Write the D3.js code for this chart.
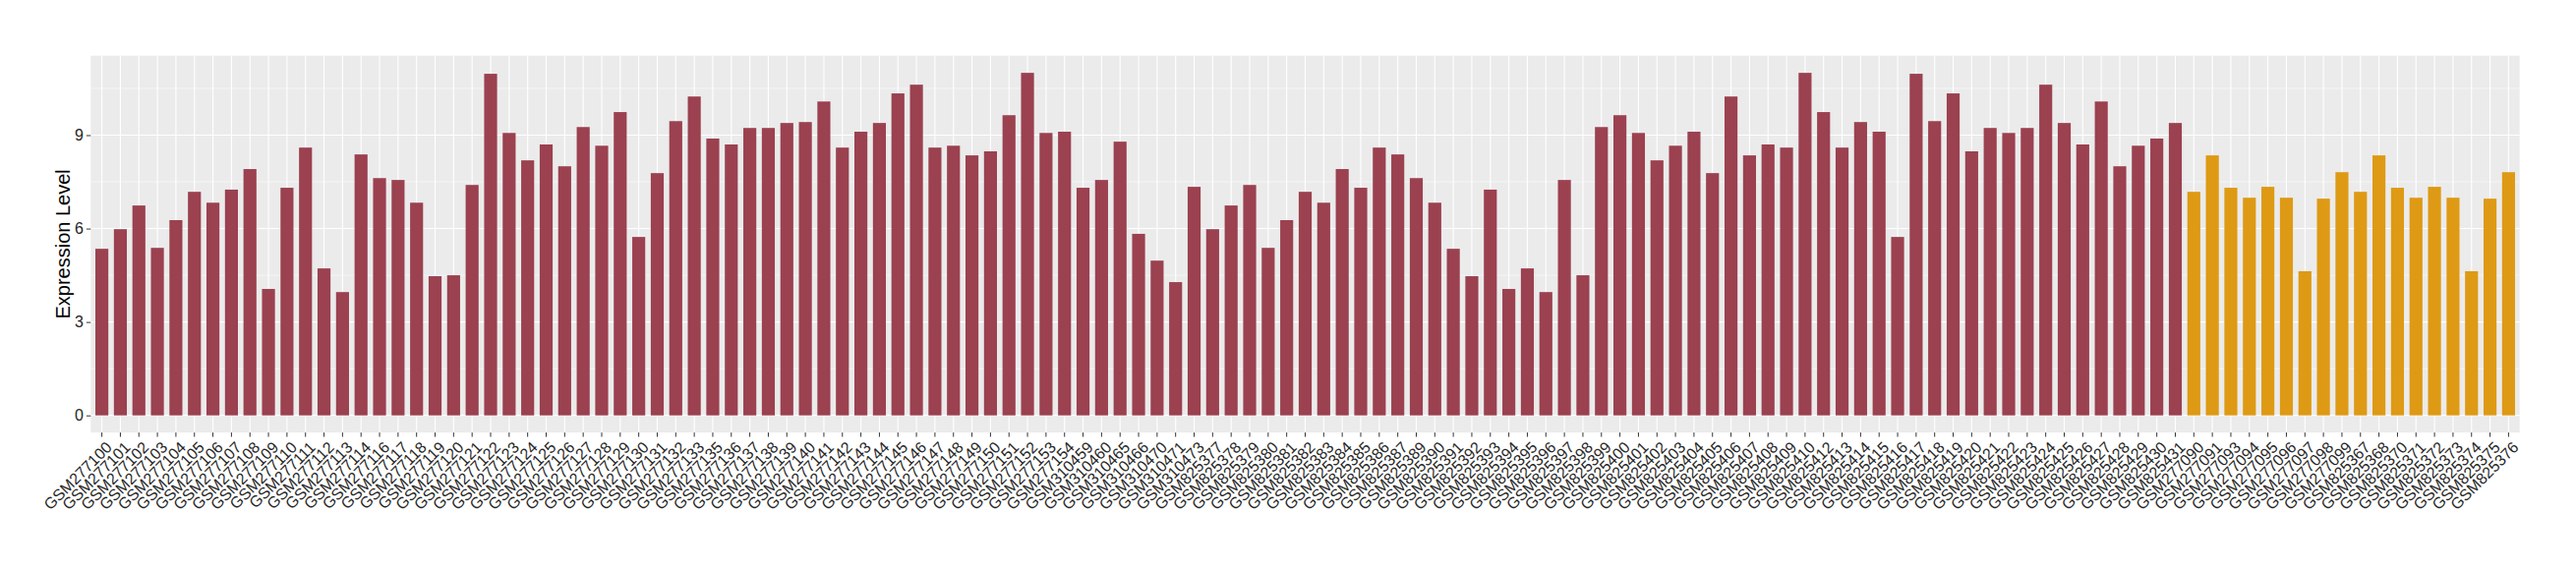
<!DOCTYPE html>
<html lang="en">
<head>
<meta charset="utf-8">
<title>Expression Level</title>
<script src="https://cdn.jsdelivr.net/npm/d3@7"></script>
<style>
  body { margin: 0; background: #fff; }
  svg text { font-family: "Liberation Sans", Arial, Helvetica, sans-serif; }
  .tick-label { fill: #262626; font-size: 16px; }
  .axis-title { fill: #000; font-size: 20px; }
</style>
</head>
<body>
<div id="chart"></div>
<script>
  // sample ids, in plotting order
  var samples = [
    "GSM277100","GSM277101","GSM277102","GSM277103","GSM277104","GSM277105","GSM277106","GSM277107",
    "GSM277108","GSM277109","GSM277110","GSM277111","GSM277112","GSM277113","GSM277114","GSM277116",
    "GSM277117","GSM277118","GSM277119","GSM277120","GSM277121","GSM277122","GSM277123","GSM277124",
    "GSM277125","GSM277126","GSM277127","GSM277128","GSM277129","GSM277130","GSM277131","GSM277132",
    "GSM277133","GSM277135","GSM277136","GSM277137","GSM277138","GSM277139","GSM277140","GSM277141",
    "GSM277142","GSM277143","GSM277144","GSM277145","GSM277146","GSM277147","GSM277148","GSM277149",
    "GSM277150","GSM277151","GSM277152","GSM277153","GSM277154",
    "GSM310459","GSM310460","GSM310465","GSM310466","GSM310470","GSM310471","GSM310473",
    "GSM825377","GSM825378","GSM825379","GSM825380","GSM825381","GSM825382","GSM825383","GSM825384",
    "GSM825385","GSM825386","GSM825387","GSM825389","GSM825390","GSM825391","GSM825392","GSM825393",
    "GSM825394","GSM825395","GSM825396","GSM825397","GSM825398","GSM825399","GSM825400","GSM825401",
    "GSM825402","GSM825403","GSM825404","GSM825405","GSM825406","GSM825407","GSM825408","GSM825409",
    "GSM825410","GSM825412","GSM825413","GSM825414","GSM825415","GSM825416","GSM825417","GSM825418",
    "GSM825419","GSM825420","GSM825421","GSM825422","GSM825423","GSM825424","GSM825425","GSM825426",
    "GSM825427","GSM825428","GSM825429","GSM825430","GSM825431",
    "GSM277090","GSM277091","GSM277093","GSM277094","GSM277095","GSM277096","GSM277097","GSM277098",
    "GSM277099",
    "GSM825367","GSM825368","GSM825370","GSM825371","GSM825372","GSM825373","GSM825374","GSM825375",
    "GSM825376"
  ];

  var expression = [
    5.35, 5.98, 6.74, 5.38, 6.27, 7.18, 6.83, 7.25, 7.91, 4.06, 7.31, 8.60, 4.72, 3.96, 8.38, 7.62,
    7.56, 6.83, 4.47, 4.50, 7.40, 10.97, 9.07, 8.19, 8.70, 8.00, 9.26, 8.66, 9.74, 5.73, 7.78, 9.45,
    10.24, 8.89, 8.70, 9.23, 9.23, 9.39, 9.42, 10.08, 8.60, 9.11, 9.39, 10.34, 10.62, 8.60, 8.66, 8.35,
    8.48, 9.64, 11.00, 9.07, 9.11,
    7.31, 7.56, 8.79, 5.83, 4.97, 4.28, 7.34,
    5.98, 6.74, 7.40, 5.38, 6.27, 7.18, 6.83, 7.91, 7.31, 8.60, 8.38, 7.62, 6.83, 5.35, 4.47, 7.25,
    4.06, 4.72, 3.96, 7.56, 4.50, 9.26, 9.64, 9.07, 8.19, 8.66, 9.11, 7.78, 10.24, 8.35, 8.70, 8.60,
    11.00, 9.74, 8.60, 9.42, 9.11, 5.73, 10.97, 9.45, 10.34, 8.48, 9.23, 9.07, 9.23, 10.62, 9.39, 8.70,
    10.08, 8.00, 8.66, 8.89, 9.39,
    7.18, 8.35, 7.31, 6.99, 7.34, 6.99, 4.63, 6.96, 7.81,
    7.18, 8.35, 7.31, 6.99, 7.34, 6.99, 4.63, 6.96, 7.81
  ];

  // samples drawn in the second (orange) colour
  var controlSamples = [
    "GSM277090","GSM277091","GSM277093","GSM277094","GSM277095","GSM277096","GSM277097","GSM277098",
    "GSM277099","GSM825367","GSM825368","GSM825370","GSM825371","GSM825372","GSM825373","GSM825374",
    "GSM825375","GSM825376"
  ];

  var yTicks = [0, 3, 6, 9];
  var yMinor = [1.5, 4.5, 7.5, 10.5];

  var width = 2620,
      height = 580,
      margin = {top: 56.7, right: 57.3, bottom: 139.9, left: 92.3};

  var data = samples.map(function(s, i) {
    return {id: s, value: expression[i], control: controlSamples.indexOf(s) >= 0};
  });

  var svg = d3.select("#chart")
      .append("svg")
      .attr("width", width)
      .attr("height", height);

  var x = d3.scaleBand()
      .domain(samples)
      .range([margin.left, width - margin.right])
      .paddingInner(0.3)
      .paddingOuter(0.25);

  var ymax = d3.max(expression),
      pad = ymax * 0.05;

  var y = d3.scaleLinear()
      .domain([-pad, ymax + pad])
      .range([height - margin.bottom, margin.top]);

  var pLeft = margin.left, pRight = width - margin.right,
      pTop = margin.top, pBottom = height - margin.bottom;

  // panel
  svg.append("rect")
      .attr("x", pLeft).attr("y", pTop)
      .attr("width", pRight - pLeft).attr("height", pBottom - pTop)
      .attr("fill", "#ebebeb");

  svg.selectAll(".minor")
      .data(yMinor)
    .enter().append("line")
      .attr("x1", pLeft).attr("x2", pRight)
      .attr("y1", function(d) { return y(d); })
      .attr("y2", function(d) { return y(d); })
      .attr("stroke", "#fff").attr("stroke-width", 0.55);

  svg.selectAll(".major")
      .data(yTicks)
    .enter().append("line")
      .attr("x1", pLeft).attr("x2", pRight)
      .attr("y1", function(d) { return y(d); })
      .attr("y2", function(d) { return y(d); })
      .attr("stroke", "#fff").attr("stroke-width", 1.1);

  svg.selectAll(".vgrid")
      .data(samples)
    .enter().append("line")
      .attr("x1", function(d) { return x(d) + x.bandwidth() / 2; })
      .attr("x2", function(d) { return x(d) + x.bandwidth() / 2; })
      .attr("y1", pTop).attr("y2", pBottom)
      .attr("stroke", "#fff").attr("stroke-width", 1.1);

  // bars
  svg.selectAll(".bar")
      .data(data)
    .enter().append("rect")
      .attr("x", function(d) { return x(d.id); })
      .attr("width", x.bandwidth())
      .attr("y", function(d) { return y(d.value); })
      .attr("height", function(d) { return y(0) - y(d.value); })
      .attr("fill", function(d) { return d.control ? "#de9a14" : "#9b4150"; });

  // y axis
  var yAxis = svg.append("g")
      .attr("transform", "translate(" + pLeft + ",0)")
      .call(d3.axisLeft(y).tickValues(yTicks).tickSize(4.4).tickPadding(3));
  yAxis.attr("font-family", null).attr("font-size", null);
  yAxis.select(".domain").remove();
  yAxis.selectAll(".tick line").attr("stroke", "#333");
  yAxis.selectAll(".tick text")
      .attr("class", "tick-label")
      .attr("fill", null);

  // x axis
  var xAxis = svg.append("g")
      .attr("transform", "translate(0," + pBottom + ")")
      .call(d3.axisBottom(x).tickSize(4.4).tickSizeOuter(0));
  xAxis.attr("font-family", null).attr("font-size", null);
  xAxis.select(".domain").remove();
  xAxis.selectAll(".tick line").attr("stroke", "#333");
  xAxis.selectAll(".tick text")
      .attr("class", "tick-label")
      .attr("fill", null)
      .attr("y", 0).attr("dy", "0.72em")
      .attr("text-anchor", "end")
      .attr("transform", "translate(3,8) rotate(-45)");

  // axis title
  svg.append("text")
      .attr("class", "axis-title")
      .attr("transform", "translate(71," + ((pTop + pBottom) / 2) + ") rotate(-90)")
      .attr("text-anchor", "middle")
      .text("Expression Level");
</script>
</body>
</html>
